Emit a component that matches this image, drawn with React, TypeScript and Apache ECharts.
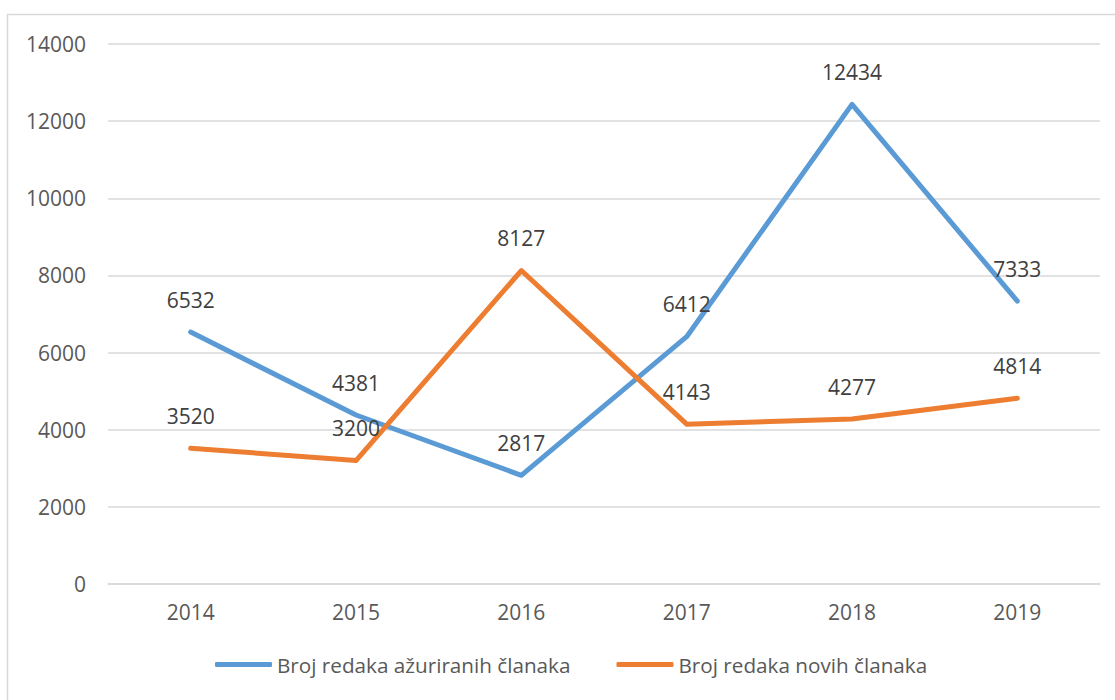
import React, { useEffect, useRef } from "react";
import * as echarts from "echarts";

const categories = ["2014", "2015", "2016", "2017", "2018", "2019"];
const updatedLines = [6532, 4381, 2817, 6412, 12434, 7333];
const newLines = [3520, 3200, 8127, 4143, 4277, 4814];
const seriesNames = ["Broj redaka ažuriranih članaka", "Broj redaka novih članaka"];

const FONT = "Open Sans";

export default function App() {
  const ref = useRef<HTMLDivElement>(null);
  useEffect(() => {
    if (!ref.current) return;
    const chart = echarts.init(ref.current, undefined, { renderer: "svg" });
    const label = {
      show: true,
      position: "top" as const,
      distance: 22,
      color: "#404040",
      fontFamily: FONT,
      fontSize: 21,
    };
    chart.setOption({
      animation: false,
      backgroundColor: "#ffffff",
      graphic: [
        {
          type: "rect",
          shape: { x: 7.5, y: 14.5, width: 1120, height: 700 },
          style: { fill: "none", stroke: "#d9d9d9", lineWidth: 1.5 },
          silent: true,
        },
      ],
      grid: { left: 108, right: 15, top: 44, bottom: 116, containLabel: false },
      xAxis: {
        type: "category",
        data: categories,
        boundaryGap: true,
        axisLine: { show: true, lineStyle: { color: "#d9d9d9", width: 1.5 } },
        axisTick: { show: false },
        axisLabel: { color: "#595959", fontFamily: FONT, fontSize: 21, margin: 17 },
      },
      yAxis: {
        type: "value",
        min: 0,
        max: 14000,
        interval: 2000,
        axisLine: { show: false },
        axisTick: { show: false },
        splitLine: { lineStyle: { color: "#d9d9d9", width: 1.5 } },
        axisLabel: {
          color: "#595959",
          fontFamily: FONT,
          fontSize: 21,
          margin: 22,
          formatter: (v: number) => String(v),
        },
      },
      legend: {
        bottom: 20,
        left: 210,
        icon: "roundRect",
        itemWidth: 57,
        itemHeight: 5,
        itemGap: 46,
        textStyle: { color: "#595959", fontFamily: FONT, fontSize: 20.7 },
        data: seriesNames,
      },
      series: [
        {
          name: seriesNames[0],
          type: "line",
          data: updatedLines,
          symbol: "circle",
          symbolSize: 0,
          lineStyle: { color: "#5B9BD5", width: 5, cap: "round", join: "round" },
          itemStyle: { color: "#5B9BD5" },
          label,
        },
        {
          name: seriesNames[1],
          type: "line",
          data: newLines,
          symbol: "circle",
          symbolSize: 0,
          lineStyle: { color: "#ED7D31", width: 5, cap: "round", join: "round" },
          itemStyle: { color: "#ED7D31" },
          label,
        },
      ],
    });
    return () => chart.dispose();
  }, []);
  return (
    <div
      ref={ref}
      style={{ position: "absolute", left: 0, top: 0, width: 1115, height: 700 }}
    />
  );
}
